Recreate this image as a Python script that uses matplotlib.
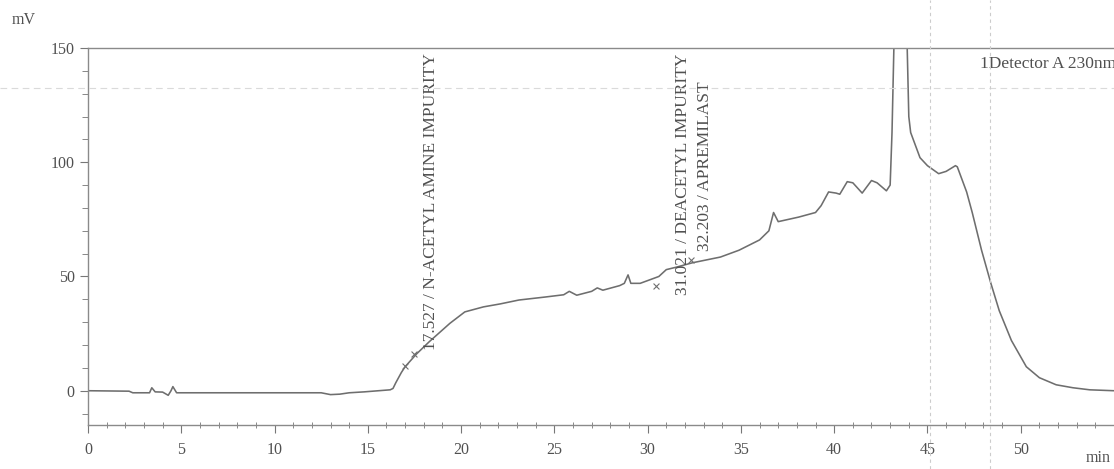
import matplotlib
matplotlib.use("Agg")
import matplotlib.pyplot as plt
from matplotlib.lines import Line2D
from matplotlib.ticker import MultipleLocator

# ---- data ----
time_min = [0.0, 2.2, 2.4, 3.3, 3.42, 3.6, 4.0, 4.3, 4.45, 4.55, 4.75, 5.5, 12.5,
            13.0, 13.5, 14.0, 14.8, 16.2, 16.35, 16.5, 16.8, 17.0, 17.6, 18.3,
            19.4, 20.2, 21.2, 22.1, 23.1, 24.5, 25.5, 25.8, 26.2, 27.0, 27.3,
            27.6, 28.5, 28.75, 28.95, 29.1, 29.6, 30.1, 30.6, 31.0, 31.5, 32.4,
            33.9, 34.9, 36.0, 36.5, 36.75, 37.0, 38.1, 39.0, 39.3, 39.7, 40.1,
            40.3, 40.7, 41.0, 41.5, 42.0, 42.3, 42.8, 43.0, 43.1, 43.2, 43.5,
            43.9, 44.0, 44.1, 44.6, 45.0, 45.6, 46.0, 46.5, 46.6, 47.1, 47.4,
            47.9, 48.4, 48.85, 49.5, 50.3, 51.0, 51.9, 52.8, 53.7, 55.0]
signal_mv = [0.0, -0.2, -0.9, -0.9, 1.3, -0.5, -0.6, -2.0, 0.0, 1.8, -0.9, -0.9,
             -0.9, -1.7, -1.5, -0.9, -0.5, 0.4, 1.0, 3.5, 8.0, 10.5, 16.0, 21.5,
             29.5, 34.5, 36.7, 38.0, 39.7, 41.0, 42.0, 43.5, 41.8, 43.5, 45.0,
             44.0, 46.0, 47.0, 50.7, 47.0, 47.0, 48.5, 50.0, 53.0, 54.0, 56.0,
             58.5, 61.5, 66.0, 70.0, 78.0, 74.0, 76.0, 78.0, 81.0, 87.0, 86.5,
             86.0, 91.5, 91.0, 86.5, 92.0, 91.0, 87.5, 90.0, 113.0, 150.0, 600.0,
             155.0, 120.0, 113.0, 102.0, 98.5, 95.0, 96.0, 98.5, 98.0, 87.0, 78.0,
             61.5, 47.0, 35.0, 22.0, 10.5, 5.7, 2.6, 1.3, 0.4, 0.0]

peak_rt = [17.527, 31.021, 32.203]
peak_names = ["N-ACETYL AMINE IMPURITY", "DEACETYL IMPURITY", "APREMILAST"]
label_base_mv = [18, 42, 61]

mark_x = [17.0, 17.45, 30.45, 32.35]
mark_y = [11.0, 16.0, 46.0, 57.0]

x_ticks = [0, 5, 10, 15, 20, 25, 30, 35, 40, 45, 50]
y_ticks = [0, 50, 100, 150]

# ---- figure ----
plt.rcParams['font.family'] = ['Liberation Serif', 'DejaVu Serif']
TXT = "#505050"
LINE = "#6e6e6e"

fig = plt.figure(figsize=(11.14, 4.69), dpi=100)
ax = fig.add_axes([88 / 1114, 44 / 469, 1 - 88 / 1114, (425 - 48) / 469])

ax.plot(time_min, signal_mv, color=LINE, lw=1.15, solid_joinstyle='round')
ax.scatter(mark_x, mark_y, marker='x', s=18, color=LINE, linewidths=0.8)

for rt, name, yb in zip(peak_rt, peak_names, label_base_mv):
    ax.text(rt + 0.85, yb, f"{rt:.3f} / {name}", rotation=90, ha='center',
            va='bottom', fontsize=12.5, color=TXT)

ax.set_xlim(0, 55)
ax.set_ylim(-15, 150)
ax.set_xticks(x_ticks)
ax.set_yticks(y_ticks)
ax.xaxis.set_minor_locator(MultipleLocator(1))
ax.yaxis.set_minor_locator(MultipleLocator(10))
ax.tick_params(axis='both', which='major', length=6, width=0.8, color="#777777",
               labelsize=11.5, labelcolor=TXT, direction='out')
ax.tick_params(axis='x', which='minor', length=5, width=0.7, color="#888888",
               direction='inout')
ax.tick_params(axis='y', which='minor', length=4, width=0.7, color="#888888",
               direction='out')
ax.tick_params(axis='x', which='major', pad=6)

for s in ['left', 'bottom', 'top']:
    ax.spines[s].set_color("#8a8a8a")
    ax.spines[s].set_linewidth(1.0)
ax.spines['right'].set_visible(False)

ax.text((980 - 88) / 1026, 0.978, "1Detector A 230nm", transform=ax.transAxes,
        fontsize=12.5, color=TXT, ha='left', va='top', clip_on=False)

fig.text(12 / 1114, 1 - 20 / 469, "mV", fontsize=11.5, color=TXT, va='center')
fig.text(1086 / 1114, 3 / 469, "min", fontsize=11.5, color=TXT, va='bottom')

# faint scan-like guide lines
fig.add_artist(Line2D([0, 1], [1 - 88 / 469] * 2, color="#dadada", lw=0.8,
                      ls=(0, (6, 4))))
for px in [930, 990]:
    fig.add_artist(Line2D([px / 1114] * 2, [0, 1], color="#cccccc", lw=0.8,
                          ls=(0, (3, 3))))

fig.savefig("out.png", dpi=100)
